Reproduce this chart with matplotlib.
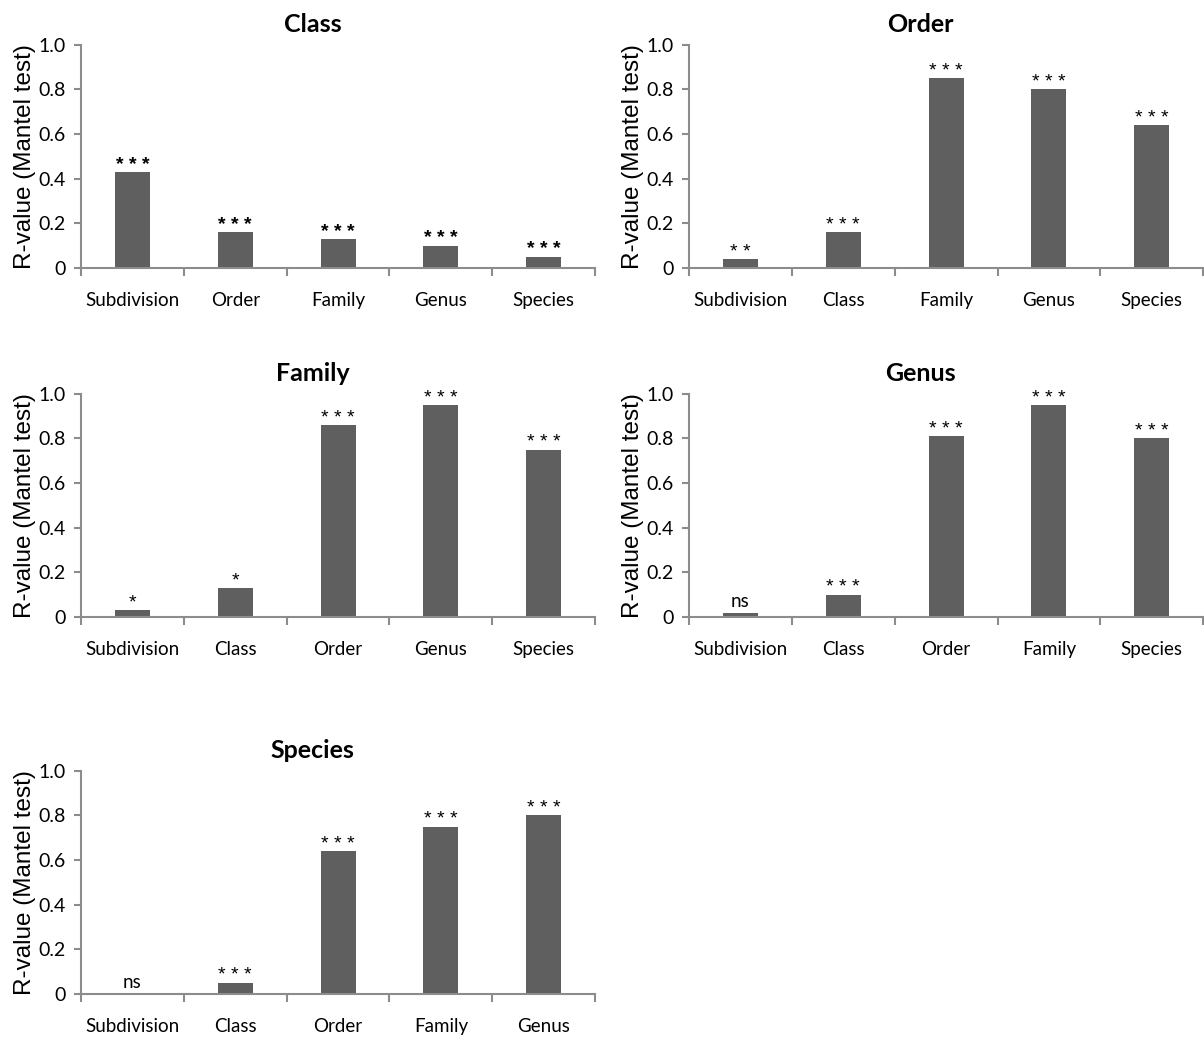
import matplotlib.pyplot as plt
from matplotlib.ticker import FixedLocator

# Mantel test R-values, one panel per taxonomic level
class_labels = ["Subdivision", "Order", "Family", "Genus", "Species"]
class_values = [0.43, 0.16, 0.13, 0.10, 0.05]
class_signif = ["***", "***", "***", "***", "***"]

order_labels = ["Subdivision", "Class", "Family", "Genus", "Species"]
order_values = [0.04, 0.16, 0.85, 0.80, 0.64]
order_signif = ["**", "***", "***", "***", "***"]

family_labels = ["Subdivision", "Class", "Order", "Genus", "Species"]
family_values = [0.03, 0.13, 0.86, 0.95, 0.75]
family_signif = ["*", "*", "***", "***", "***"]

genus_labels = ["Subdivision", "Class", "Order", "Family", "Species"]
genus_values = [0.02, 0.10, 0.81, 0.95, 0.80]
genus_signif = ["ns", "***", "***", "***", "***"]

species_labels = ["Subdivision", "Class", "Order", "Family", "Genus"]
species_values = [0.0, 0.05, 0.64, 0.75, 0.80]
species_signif = ["ns", "***", "***", "***", "***"]

BAR = "#5f5f5f"
AXIS = "#8c8c8c"


def panel(fig, rect, title, labels, values, signif, bold_stars=False):
    ax = fig.add_axes(rect)
    n = len(labels)
    xs = [i + 0.5 for i in range(n)]
    ax.bar(xs, values, width=0.34, color=BAR)
    ax.set_xlim(0, n)
    ax.set_ylim(0, 1.0)

    for x, v, s in zip(xs, values, signif):
        # stars are drawn spaced out like in the original
        if s == "ns":
            ax.annotate(s, (x, v), xytext=(0, 8), textcoords="offset points",
                        ha="center", va="center", fontsize=13.5, family="Lato")
        else:
            ax.annotate(" ".join(s), (x, v), xytext=(0, 5),
                        textcoords="offset points", ha="center", va="center",
                        fontsize=14,
                        fontweight="bold" if bold_stars else "normal",
                        family="Liberation Sans")

    ax.spines["top"].set_visible(False)
    ax.spines["right"].set_visible(False)
    ax.spines["left"].set_color(AXIS)
    ax.spines["bottom"].set_color(AXIS)
    ax.spines["left"].set_linewidth(1.5)
    ax.spines["bottom"].set_linewidth(1.5)

    # tick marks on category boundaries, labels at the centres
    ax.xaxis.set_major_locator(FixedLocator(range(n + 1)))
    ax.xaxis.set_minor_locator(FixedLocator(xs))
    ax.set_xticklabels([""] * (n + 1))
    ax.set_xticklabels(labels, minor=True, fontsize=13.5, family="Lato")
    ax.tick_params(axis="x", which="major", length=6, width=1.5, color=AXIS)
    ax.tick_params(axis="x", which="minor", length=0, pad=17)

    ax.set_yticks([0, 0.2, 0.4, 0.6, 0.8, 1.0])
    ax.set_yticklabels(["0", "0.2", "0.4", "0.6", "0.8", "1.0"],
                       fontsize=14, family="Lato")
    ax.tick_params(axis="y", length=5, width=1.5, color=AXIS, pad=6)

    ax.set_ylabel("R-value (Mantel test)", fontsize=17.5,
                  family="Liberation Sans")
    ax.yaxis.set_label_coords(-0.088, 0.5)
    ax.set_title(title, fontsize=18, fontweight="bold", family="Lato",
                 x=0.45, pad=9)
    return ax


fig = plt.figure(figsize=(12.04, 10.38), dpi=100)

w = 0.427
h = 0.215
left_x = 0.0673
right_x = 0.5723

panel(fig, [left_x, 0.7418, w, h], "Class", class_labels, class_values,
      class_signif, bold_stars=True)
panel(fig, [right_x, 0.7418, w, h], "Order", order_labels, order_values,
      order_signif)
panel(fig, [left_x, 0.4056, w, h], "Family", family_labels, family_values,
      family_signif)
panel(fig, [right_x, 0.4056, w, h], "Genus", genus_labels, genus_values,
      genus_signif)
panel(fig, [left_x, 0.0424, w, h], "Species", species_labels, species_values,
      species_signif)

fig.savefig("out.png", dpi=100)
